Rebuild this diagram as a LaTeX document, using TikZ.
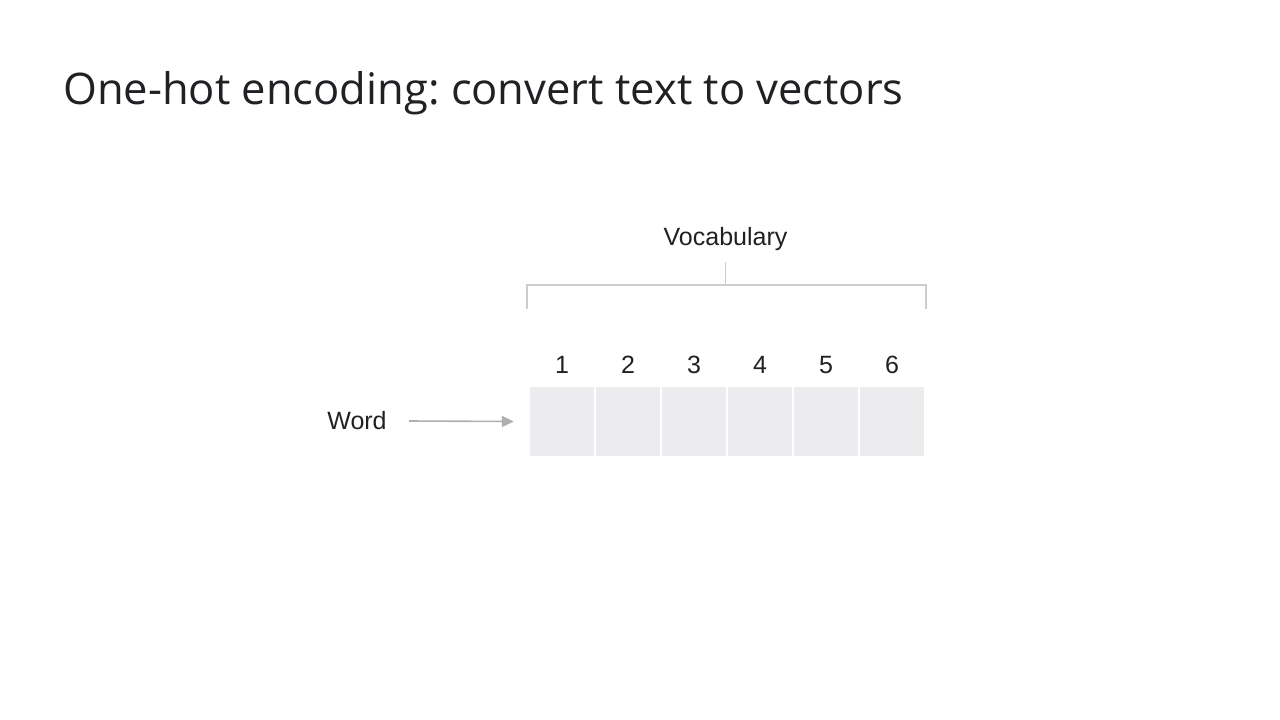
\documentclass[tikz,border=0pt]{standalone}
\usepackage{fontspec}
\setmainfont{Liberation Sans}
\newfontfamily\titlefont{Open Sans}
\usetikzlibrary{arrows.meta}
\frenchspacing
\definecolor{txt}{RGB}{32,33,36}
\definecolor{brk}{RGB}{205,205,205}
\definecolor{cellc}{RGB}{236,236,239}
\definecolor{arr}{RGB}{175,175,175}
\tikzset{
  cellbox/.style={fill=cellc, draw=none, minimum width=64pt, minimum height=69pt, inner sep=0pt},
  numlabel/.style={font=\fontsize{25}{28}\selectfont, text=txt, inner sep=0pt},
  bracketline/.style={draw=brk, line width=1.3pt},
  arrowline/.style={draw=arr, line width=1.6pt, -{Triangle[length=12pt,width=11pt]}}
}
\begin{document}
\begin{tikzpicture}[x=1pt,y=-1pt]
\useasboundingbox[fill=white] (0,0) rectangle (1280,720);
\node[anchor=west, text=txt, inner sep=0pt, font=\titlefont\fontsize{43.5}{48}\selectfont] (title) at (63,93) {One-hot encoding: convert text to vectors};
\node[numlabel] (vocab) at (725.5,239) {Vocabulary};
\coordinate (stemtop) at (725.5,262);
\coordinate (stembot) at (725.5,285);
\coordinate (bl) at (527,285);
\coordinate (br) at (926,285);
\coordinate (bld) at (527,309);
\coordinate (brd) at (926,309);
\draw[bracketline] (stemtop) -- (stembot);
\draw[bracketline] (bld) -- (bl) -- (br) -- (brd);
\foreach \i/\x in {1/562,2/628,3/694,4/760,5/826,6/892} {
  \node[cellbox] (c\i) at (\x,421.5) {};
  \node[numlabel] (n\i) at (\x,365) {\i};
}
\node[numlabel] (word) at (357,421) {Word};
\coordinate (arrstart) at (409,421);
\draw[arrowline] (arrstart) -- ([xshift=-16pt]c1.west);
\end{tikzpicture}
\end{document}
